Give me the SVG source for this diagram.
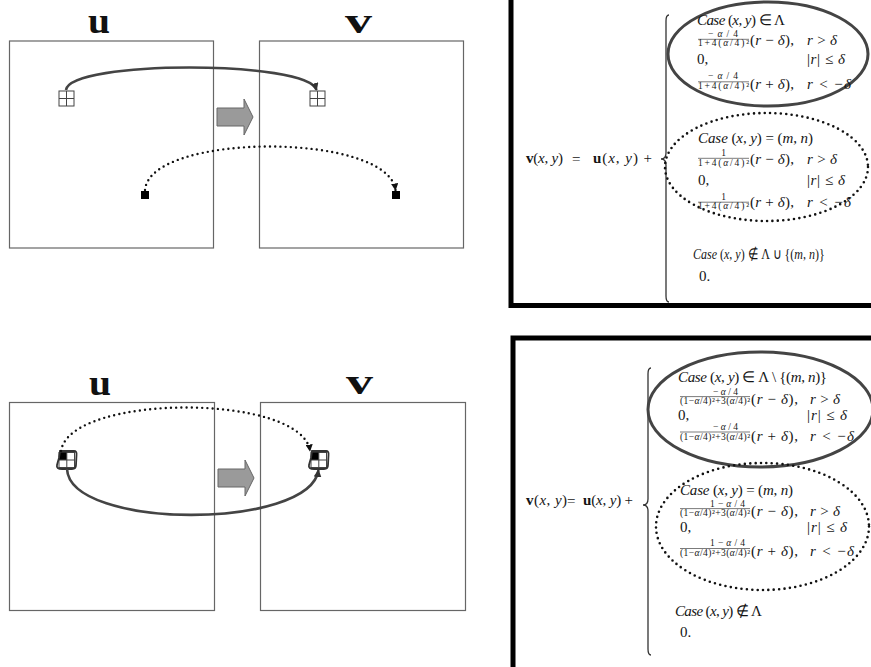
<svg xmlns="http://www.w3.org/2000/svg" width="871" height="667" viewBox="0 0 871 667">
<style>
.frame{fill:#fff;stroke:#666;stroke-width:1.2}
.lbl{font-family:"Liberation Serif",serif;font-weight:bold;fill:#111}
.m{font-family:"Liberation Serif",serif;font-size:15px;fill:#151515}
.f{font-family:"Liberation Serif",serif;font-size:9.5px;fill:#151515}
.i{font-style:italic}
.b{font-weight:bold}
.fl{stroke:#222;stroke-width:0.6}
.grid{fill:#fff;stroke:#444;stroke-width:1}
.blk{fill:#000}
.solid{fill:none;stroke:#444;stroke-width:2.6}
.dot{fill:none;stroke:#111;stroke-width:2.4;stroke-linecap:round;stroke-dasharray:0 5.2}
.bigarrow{fill:#9a9a9a;stroke:#666;stroke-width:1}
.box{fill:#fff;stroke:#000;stroke-width:5}
.brace{fill:none;stroke:#333;stroke-width:1.3}
.ell{fill:none;stroke:#444;stroke-width:3}
.ellDot{fill:none;stroke:#111;stroke-width:2.6;stroke-linecap:round;stroke-dasharray:0 5.4}
.loop{fill:none;stroke:#333;stroke-width:1.8}
</style>
<defs>
<marker id="ah" viewBox="0 0 10 10" refX="9" refY="5" markerWidth="3" markerHeight="3" orient="auto" markerUnits="strokeWidth">
<path d="M0,0 L10,5 L0,10 z" fill="#333"/>
</marker>
<marker id="ahd" viewBox="0 0 10 10" refX="9" refY="5" markerWidth="3" markerHeight="3" orient="auto" markerUnits="strokeWidth">
<path d="M0,0 L10,5 L0,10 z" fill="#111"/>
</marker>
</defs>
<rect width="871" height="667" fill="#fff"/>

<!-- top left panel -->
<g id="top-u">
<rect class="frame" x="9.5" y="41" width="204" height="207"/>
<text class="lbl" x="88" y="33" font-size="36" textLength="22" lengthAdjust="spacingAndGlyphs">u</text>
</g>
<g id="top-v">
<rect class="frame" x="259.5" y="41" width="204" height="207"/>
<text class="lbl" x="345" y="33" font-size="35" textLength="27" lengthAdjust="spacingAndGlyphs">v</text>
</g>
<g id="top-u-grid">
<rect class="grid" x="59" y="91" width="15" height="15"/>
<path class="grid" d="M66.5,91 V106 M59,98.5 H74"/>
</g>
<g id="top-v-grid">
<rect class="grid" x="310" y="91" width="15" height="15"/>
<path class="grid" d="M317.5,91 V106 M310,98.5 H325"/>
</g>
<g id="top-u-pixel"><rect class="blk" x="141" y="191" width="8" height="8"/></g>
<g id="top-v-pixel"><rect class="blk" x="392" y="191" width="8" height="8"/></g>
<g id="top-arrow"><polygon class="bigarrow" points="217,108 244,108 244,99 253,117 244,135 244,126 217,126"/></g>

<!-- bottom left panel -->
<g id="bot-u">
<rect class="frame" x="9.5" y="402.5" width="205" height="208"/>
<text class="lbl" x="89" y="395" font-size="36" textLength="22" lengthAdjust="spacingAndGlyphs">u</text>
</g>
<g id="bot-v">
<rect class="frame" x="260.5" y="402.5" width="205" height="208"/>
<text class="lbl" x="346" y="394" font-size="35" textLength="27" lengthAdjust="spacingAndGlyphs">v</text>
</g>
<g id="bot-u-grid">
<rect class="grid" x="59" y="452.5" width="15.5" height="15"/>
<rect class="blk" x="59" y="452.5" width="7.8" height="7.5"/>
<path class="grid" d="M66.8,452.5 V467.5 M59,460 H74.5"/>
<path class="loop" d="M60,451 H74 Q77,451 76.5,455 L76,465 Q76,469 72,469 H62 Q56,469 57,465 Q58,461 59,458 Z"/>
</g>
<g id="bot-v-grid">
<rect class="grid" x="311" y="452.5" width="15.5" height="15"/>
<rect class="blk" x="311" y="452.5" width="7.8" height="7.5"/>
<path class="grid" d="M318.8,452.5 V467.5 M311,460 H326.5"/>
<path class="loop" d="M312,451 H326 Q329,451 328.5,455 L328,465 Q328,469 324,469 H314 Q308,469 309,465 Q310,461 311,458 Z"/>
</g>
<g id="bot-arrow"><polygon class="bigarrow" points="218,469 245,469 245,460 254,478 245,496 245,487 218,487"/></g>

<g id="connectors">
<path class="solid" d="M66,90 C70,60 308,60 316.5,90" marker-end="url(#ah)"/>
<path class="dot" d="M145,190 C150,132 388,132 395.5,190" marker-end="url(#ahd)"/>
<path class="dot" d="M61,451 C70,393 302,393 310,451" marker-end="url(#ahd)"/>
<path class="solid" d="M67,469 C70,530 310,530 318.5,470" marker-end="url(#ah)"/>
</g>

<!-- top formula box -->
<g id="formula-top">
<rect class="box" x="511" y="-3" width="400" height="308.5"/>
<path class="brace" d="M669,15 Q666,15 666,21 L666,153 Q666,159 661,159 Q666,159 666,165 L666,296 Q666,302 669,302"/>
<text class="m" x="526" y="163" textLength="37"><tspan class="b">v</tspan>(<tspan class="i">x</tspan>, <tspan class="i">y</tspan>)</text>
<text class="m" x="572" y="164" font-size="20">=</text>
<text class="m" x="593" y="163" textLength="59"><tspan class="b">u</tspan>(<tspan class="i">x</tspan>, <tspan class="i">y</tspan>) +</text>
<ellipse class="ell" cx="768" cy="54" rx="100" ry="52"/>
<ellipse class="ellDot" cx="766.5" cy="167" rx="101.5" ry="54"/>

<text class="m" x="697" y="25" textLength="88"><tspan class="i">Case</tspan> (<tspan class="i">x</tspan>, <tspan class="i">y</tspan>) ∈ Λ</text>
<text class="f" x="708" y="37" textLength="30">−<tspan class="i">α</tspan>/4</text>
<line class="fl" x1="698" y1="39.3" x2="749" y2="39.3"/>
<text class="f" x="698" y="46.2" textLength="51">1+4(<tspan class="i">α</tspan>/4)²</text>
<text class="m" x="750" y="45" textLength="44">(<tspan class="i">r</tspan> − <tspan class="i">δ</tspan>),</text>
<text class="m" x="807" y="45" textLength="30"><tspan class="i">r</tspan> &gt; <tspan class="i">δ</tspan></text>
<text class="m" x="697" y="64">0,</text>
<text class="m" x="807" y="64" textLength="38">|<tspan class="i">r</tspan>| ≤ <tspan class="i">δ</tspan></text>
<text class="f" x="708" y="79" textLength="30">−<tspan class="i">α</tspan>/4</text>
<line class="fl" x1="698" y1="81.8" x2="749" y2="81.8"/>
<text class="f" x="698" y="88.7" textLength="51">1+4(<tspan class="i">α</tspan>/4)²</text>
<text class="m" x="750" y="89" textLength="44">(<tspan class="i">r</tspan> + <tspan class="i">δ</tspan>),</text>
<text class="m" x="807" y="89" textLength="44"><tspan class="i">r</tspan> &lt; −<tspan class="i">δ</tspan></text>

<text class="m" x="698" y="143" textLength="115"><tspan class="i">Case</tspan> (<tspan class="i">x</tspan>, <tspan class="i">y</tspan>) = (<tspan class="i">m</tspan>, <tspan class="i">n</tspan>)</text>
<text class="f" x="723.5" y="156" text-anchor="middle">1</text>
<line class="fl" x1="698" y1="158.3" x2="749" y2="158.3"/>
<text class="f" x="698" y="165.6" textLength="51">1+4(<tspan class="i">α</tspan>/4)²</text>
<text class="m" x="750" y="163.5" textLength="44">(<tspan class="i">r</tspan> − <tspan class="i">δ</tspan>),</text>
<text class="m" x="807" y="163.5" textLength="30"><tspan class="i">r</tspan> &gt; <tspan class="i">δ</tspan></text>
<text class="m" x="698" y="184.5">0,</text>
<text class="m" x="807" y="184.5" textLength="38">|<tspan class="i">r</tspan>| ≤ <tspan class="i">δ</tspan></text>
<text class="f" x="723.5" y="200" text-anchor="middle">1</text>
<line class="fl" x1="698" y1="202.2" x2="749" y2="202.2"/>
<text class="f" x="698" y="209.2" textLength="51">1+4(<tspan class="i">α</tspan>/4)²</text>
<text class="m" x="750" y="207" textLength="44">(<tspan class="i">r</tspan> + <tspan class="i">δ</tspan>),</text>
<text class="m" x="807" y="207" textLength="44"><tspan class="i">r</tspan> &lt; −<tspan class="i">δ</tspan></text>

<text class="m" transform="translate(693,259) scale(0.8,1)" x="0" y="0" font-size="14"><tspan class="i">Case</tspan> (<tspan class="i">x</tspan>, <tspan class="i">y</tspan>) ∉ Λ ∪ {(<tspan class="i">m</tspan>, <tspan class="i">n</tspan>)}</text>
<text class="m" x="699" y="281">0.</text>
</g>

<!-- bottom formula box -->
<g id="formula-bottom">
<rect class="box" x="513" y="338" width="400" height="340"/>
<path class="brace" d="M651,368 Q648,368 648,374 L648,499 Q648,505 643,505 Q648,505 648,511 L648,649 Q648,655 651,655"/>
<text class="m" x="526" y="505" textLength="41"><tspan class="b">v</tspan>(<tspan class="i">x</tspan>, <tspan class="i">y</tspan>)</text>
<text class="m" x="567" y="506" font-size="20">=</text>
<text class="m" x="583" y="505" textLength="50"><tspan class="b">u</tspan>(<tspan class="i">x</tspan>, <tspan class="i">y</tspan>) +</text>
<ellipse class="ell" cx="760.5" cy="409.5" rx="112.5" ry="57.5"/>
<ellipse class="ellDot" cx="762.5" cy="526.5" rx="106.5" ry="63.5"/>

<text class="m" x="678" y="382" textLength="149"><tspan class="i">Case</tspan> (<tspan class="i">x</tspan>, <tspan class="i">y</tspan>) ∈ Λ \ {(<tspan class="i">m</tspan>, <tspan class="i">n</tspan>)}</text>
<text class="f" x="713" y="394.5" textLength="25">−<tspan class="i">α</tspan>/4</text>
<line class="fl" x1="680" y1="396.6" x2="750" y2="396.6"/>
<text class="f" x="680" y="403.7" textLength="70">(1−<tspan class="i">α</tspan>/4)²+3(<tspan class="i">α</tspan>/4)²</text>
<text class="m" x="751" y="403.5" font-size="14" textLength="47">(<tspan class="i">r</tspan> − <tspan class="i">δ</tspan>),</text>
<text class="m" x="810" y="403.5" font-size="14" textLength="30"><tspan class="i">r</tspan> &gt; <tspan class="i">δ</tspan></text>
<text class="m" x="678" y="419.5" font-size="14">0,</text>
<text class="m" x="807" y="419.5" font-size="14" textLength="40">|<tspan class="i">r</tspan>| ≤ <tspan class="i">δ</tspan></text>
<text class="f" x="713" y="429.5" textLength="25">−<tspan class="i">α</tspan>/4</text>
<line class="fl" x1="680" y1="432" x2="750" y2="432"/>
<text class="f" x="680" y="440.2" textLength="70">(1−<tspan class="i">α</tspan>/4)²+3(<tspan class="i">α</tspan>/4)²</text>
<text class="m" x="751" y="441" textLength="47">(<tspan class="i">r</tspan> + <tspan class="i">δ</tspan>),</text>
<text class="m" x="810" y="441" textLength="44"><tspan class="i">r</tspan> &lt; −<tspan class="i">δ</tspan></text>

<text class="m" x="680" y="495" textLength="113"><tspan class="i">Case</tspan> (<tspan class="i">x</tspan>, <tspan class="i">y</tspan>) = (<tspan class="i">m</tspan>, <tspan class="i">n</tspan>)</text>
<text class="f" x="710" y="506.5" textLength="35">1−<tspan class="i">α</tspan>/4</text>
<line class="fl" x1="680" y1="508.6" x2="750" y2="508.6"/>
<text class="f" x="680" y="515.7" textLength="70">(1−<tspan class="i">α</tspan>/4)²+3(<tspan class="i">α</tspan>/4)²</text>
<text class="m" x="751" y="516" textLength="47">(<tspan class="i">r</tspan> − <tspan class="i">δ</tspan>),</text>
<text class="m" x="810" y="516" textLength="30"><tspan class="i">r</tspan> &gt; <tspan class="i">δ</tspan></text>
<text class="m" x="680" y="532">0,</text>
<text class="m" x="807" y="532" textLength="40">|<tspan class="i">r</tspan>| ≤ <tspan class="i">δ</tspan></text>
<text class="f" x="710" y="546" textLength="35">1−<tspan class="i">α</tspan>/4</text>
<line class="fl" x1="680" y1="548.5" x2="750" y2="548.5"/>
<text class="f" x="680" y="555.7" textLength="70">(1−<tspan class="i">α</tspan>/4)²+3(<tspan class="i">α</tspan>/4)²</text>
<text class="m" x="751" y="556" textLength="47">(<tspan class="i">r</tspan> + <tspan class="i">δ</tspan>),</text>
<text class="m" x="810" y="556" textLength="44"><tspan class="i">r</tspan> &lt; −<tspan class="i">δ</tspan></text>

<text class="m" x="675" y="616" textLength="87"><tspan class="i">Case</tspan> (<tspan class="i">x</tspan>, <tspan class="i">y</tspan>) ∉ Λ</text>
<text class="m" x="680" y="637">0.</text>
</g>
</svg>
